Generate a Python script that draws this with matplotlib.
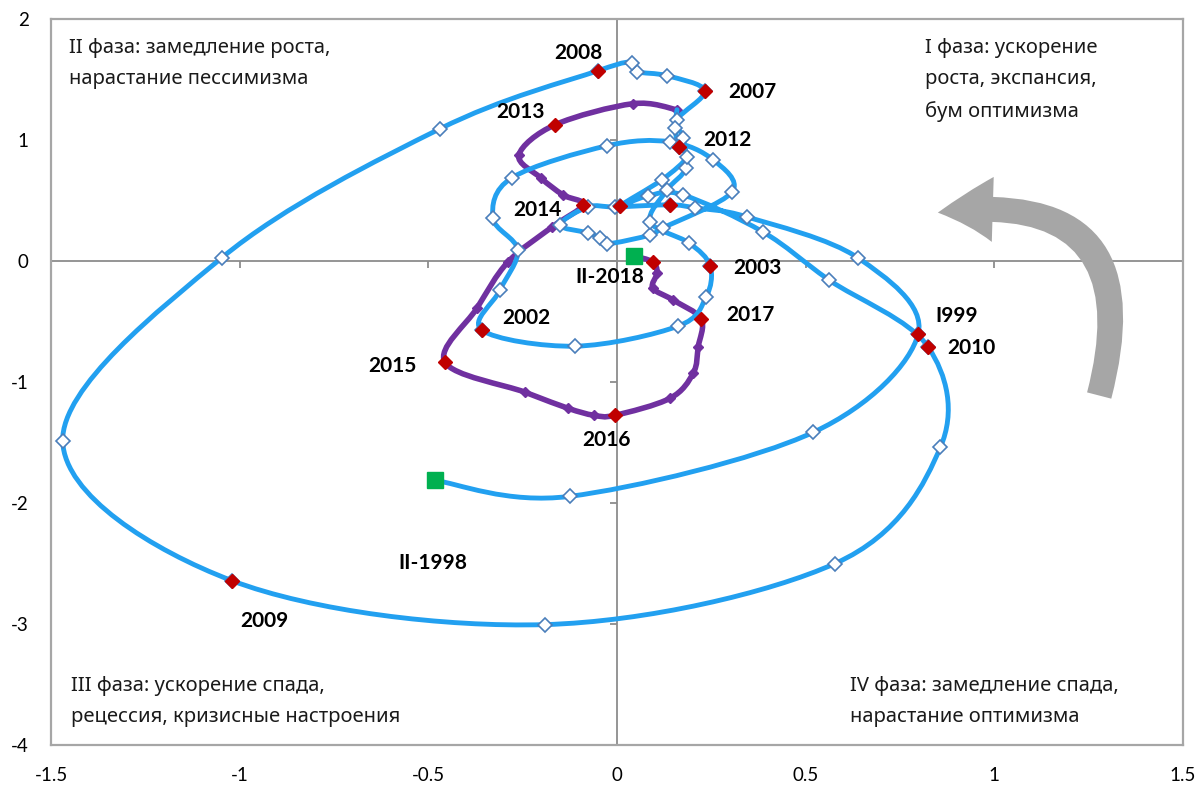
import matplotlib
matplotlib.use("Agg")
import matplotlib.pyplot as plt
from matplotlib.path import Path
from matplotlib.patches import PathPatch, FancyArrowPatch
import numpy as np

# ---------------- data ----------------
# Blue series: quarterly trajectory II-1998 ... 2012 (x, y)
blue_x = [-0.483, -0.125, 0.520, 0.798, 0.639, 0.345, 0.207, 0.141, -0.005, -0.077,
          -0.151, -0.077, -0.045, -0.027, 0.088, 0.122, 0.305, 0.255, 0.141, -0.027,
          -0.279, -0.329, -0.263, -0.310, -0.358, -0.111, 0.162, 0.236, 0.247, 0.191,
          0.088, 0.133, 0.183, 0.175, 0.159, 0.233, 0.133, 0.053, 0.040, -0.050,
          -0.469, -1.048, -1.469, -1.021, -0.191, 0.578, 0.857, 0.825, 0.562, 0.387,
          0.175, 0.082, 0.008, 0.119, 0.186, 0.164, 0.154, 0.159]
blue_y = [-1.813, -1.945, -1.416, -0.604, 0.025, 0.364, 0.439, 0.464, 0.447, 0.447,
          0.298, 0.232, 0.190, 0.141, 0.215, 0.273, 0.571, 0.836, 0.985, 0.952,
          0.687, 0.356, 0.091, -0.240, -0.571, -0.704, -0.538, -0.298, -0.041, 0.149,
          0.323, 0.588, 0.770, 1.018, 1.167, 1.407, 1.531, 1.565, 1.639, 1.573,
          1.093, 0.025, -1.490, -2.641, -3.005, -2.500, -1.540, -0.712, -0.157, 0.240,
          0.546, 0.538, 0.455, 0.671, 0.861, 0.944, 1.101, 1.250]
# indices of highlighted (red) points in the blue series
blue_red_idx = [3, 7, 24, 28, 35, 39, 43, 47, 52, 55]

# Purple series: 2012 ... II-2018
purple_x = [0.159, 0.042, -0.164, -0.260, -0.202, -0.143, -0.090, -0.172, -0.289, -0.371,
            -0.456, -0.244, -0.130, -0.061, -0.005, 0.141, 0.202, 0.215, 0.223, 0.149,
            0.095, 0.106, 0.095, 0.045]
purple_y = [1.250, 1.300, 1.126, 0.877, 0.687, 0.546, 0.464, 0.281, -0.008, -0.389,
            -0.836, -1.084, -1.217, -1.275, -1.275, -1.134, -0.927, -0.712, -0.480, -0.323,
            -0.224, -0.099, -0.008, 0.041]
purple_red_idx = [2, 6, 10, 14, 18, 22]

# Year labels and where they are written
year_labels = ["2008", "2007", "2013", "2012", "2014", "II-2018", "2003", "2017",
               "2002", "2015", "2016", "I999", "2010", "2009", "II-1998"]
label_x = [-0.103, 0.358, -0.257, 0.294, -0.212, -0.019, 0.371, 0.353,
           -0.239, -0.594, -0.029, 0.899, 0.939, -0.934, -0.488]
label_y = [1.722, 1.399, 1.233, 1.002, 0.422, -0.132, -0.058, -0.447,
           -0.472, -0.869, -1.482, -0.455, -0.720, -2.972, -2.492]

x_ticks = [-1.5, -1, -0.5, 0, 0.5, 1, 1.5]
x_tick_labels = ["-1.5", "-1", "-0.5", "0", "0.5", "1", "1.5"]
y_ticks = [-4, -3, -2, -1, 0, 1, 2]
y_tick_labels = ["-4", "-3", "-2", "-1", "0", "1", "2"]

q_texts = ["II фаза: замедление роста,\nнарастание пессимизма",
           "I фаза: ускорение\nроста, экспансия,\nбум оптимизма",
           "III фаза: ускорение спада,\nрецессия, кризисные настроения",
           "IV фаза: замедление спада,\nнарастание оптимизма"]

# ---------------- style ----------------
BLUE = "#22A0F0"
EDGE = "#4A7EBB"
RED = "#C00000"
PURPLE = "#7030A0"
GREEN = "#00B050"
GRAY = "#8C8C8C"

W, H = 1198, 787
fig = plt.figure(figsize=(W / 100, H / 100), dpi=100)
ax = fig.add_axes([51 / W, 1 - 745 / H, (1183 - 51) / W, (745 - 19) / H])
ax.set_xlim(-1.5, 1.5)
ax.set_ylim(-4, 2)


def smooth_path(xs, ys):
    pts = np.column_stack([xs, ys])
    n = len(pts)
    verts = [pts[0]]
    codes = [Path.MOVETO]
    for i in range(n - 1):
        p0 = pts[i - 1] if i > 0 else pts[i]
        p1 = pts[i]
        p2 = pts[i + 1]
        p3 = pts[i + 2] if i + 2 < n else pts[i + 1]
        c1 = p1 + (p2 - p0) / 6.0
        c2 = p2 - (p3 - p1) / 6.0
        verts += [c1, c2, p2]
        codes += [Path.CURVE4] * 3
    return Path(np.array(verts), codes)


# frame
for s in ax.spines.values():
    s.set_color("#A6A6A6")
    s.set_linewidth(1.6)

# zero axes with small ticks
ax.axhline(0, color=GRAY, lw=1.3, zorder=1)
ax.axvline(0, color=GRAY, lw=1.3, zorder=1)
ax.plot(x_ticks[1:-1], [0] * (len(x_ticks) - 2), ls="none", marker=3, ms=5,
        mec=GRAY, mew=1.3, zorder=1)
ax.plot([0] * (len(y_ticks) - 2), y_ticks[1:-1], ls="none", marker=0, ms=5,
        mec=GRAY, mew=1.3, zorder=1)

ax.set_xticks(x_ticks)
ax.set_xticklabels(x_tick_labels, fontsize=13.5, family="Lato")
ax.set_yticks(y_ticks)
ax.set_yticklabels(y_tick_labels, fontsize=13.5, family="Lato")
ax.tick_params(axis="x", length=0, pad=16)
ax.tick_params(axis="y", length=0, pad=16)

# purple series
ax.add_patch(PathPatch(smooth_path(purple_x, purple_y), fill=False, ec=PURPLE,
                       lw=4.0, zorder=3, capstyle="round", joinstyle="round"))
ax.plot(purple_x[:-1], purple_y[:-1], ls="none", marker="D", ms=5.5, mfc=PURPLE,
        mec=PURPLE, zorder=4)

# blue series
ax.add_patch(PathPatch(smooth_path(blue_x, blue_y), fill=False, ec=BLUE,
                       lw=3.5, zorder=5, capstyle="round", joinstyle="round"))
ax.plot(blue_x[1:-1], blue_y[1:-1], ls="none", marker="D", ms=7.5, mfc="white",
        mec=EDGE, mew=1.2, zorder=6)

# red highlighted points
ax.plot([blue_x[i] for i in blue_red_idx], [blue_y[i] for i in blue_red_idx],
        ls="none", marker="D", ms=7.3, mfc=RED, mec=RED, zorder=7)
ax.plot([purple_x[i] for i in purple_red_idx], [purple_y[i] for i in purple_red_idx],
        ls="none", marker="D", ms=7.3, mfc=RED, mec=RED, zorder=7)

# start / end squares
ax.plot([blue_x[0], purple_x[-1]], [blue_y[0], purple_y[-1]], ls="none", marker="s",
        ms=11.5, mfc=GREEN, mec=GREEN, zorder=8)

# year labels
for t, lx, ly in zip(year_labels, label_x, label_y):
    ax.text(lx, ly, t, fontsize=15, fontweight="bold", family="Lato",
            ha="center", va="center", zorder=9)

# quadrant captions
qpos = [(-1.451, 1.845), (0.817, 1.845), (-1.446, -3.43), (0.618, -3.43)]
for t, (qx, qy) in zip(q_texts, qpos):
    ax.text(qx, qy, t, fontsize=14.5, family="Noto Sans", ha="left", va="top",
            linespacing=1.75, color="#1a1a1a", zorder=9)

# curved arrow
arrow = FancyArrowPatch((1.276, -1.134), (0.843, 0.397),
                        connectionstyle="arc3,rad=0.75",
                        arrowstyle="simple,head_length=2.2,head_width=2.6,tail_width=1.0",
                        mutation_scale=18, color="#A6A6A6", lw=0, zorder=2)
ax.add_patch(arrow)

fig.savefig("out.png", dpi=100)
